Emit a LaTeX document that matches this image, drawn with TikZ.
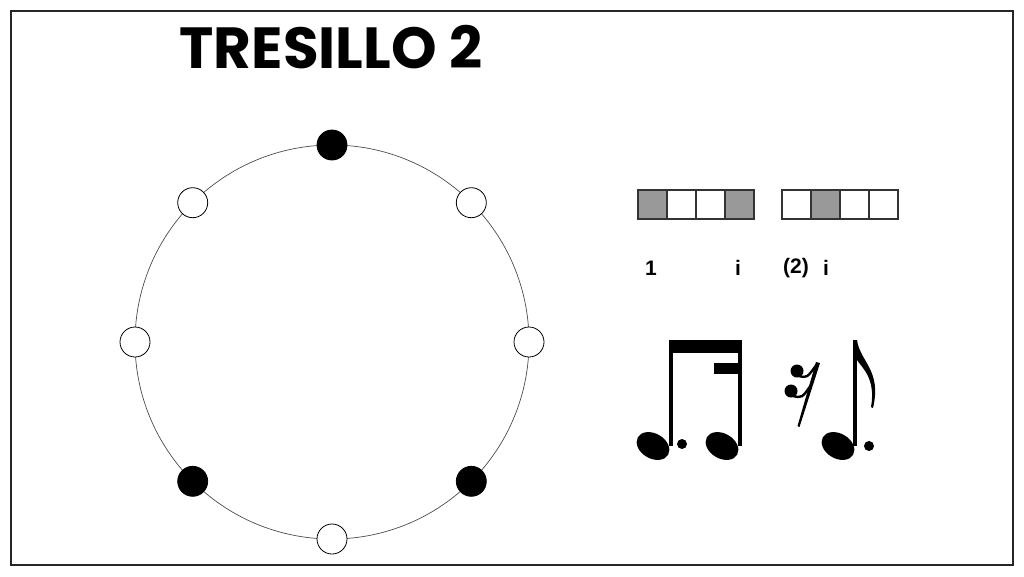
\documentclass[tikz,border=0pt]{standalone}
\usepackage{fontspec}
\setmainfont{Liberation Sans}
\newfontfamily\titlefont{Poppins}

\tikzset{
  beatdot/.style={circle, draw=black, line width=0.8, minimum size=30, inner sep=0},
  cell/.style={rectangle, draw=black!80, line width=1.4, minimum size=29, inner sep=0},
  count/.style={font=\bfseries\fontsize{21}{21}\selectfont}
}

\begin{document}
\begin{tikzpicture}[x=1pt,y=-1pt]
	   \useasboundingbox (0,0) rectangle (1024,576);
	   \draw[line width=1.5, color=black!85] (11,11) rectangle (1013,565);
	   \node (title) at (331,47) {\titlefont\bfseries\fontsize{58}{58}\selectfont TRESILLO 2};
	   % clock of eight pulses
	   \draw[color=black!70, line width=0.7] (332,342) circle (197);
	   \foreach \a/\c in {270/black, 315/white, 0/white, 45/black, 90/white, 135/black, 180/white, 225/white}
	     \node[beatdot, fill=\c] (dot\a) at ([shift={(\a:197)}]332,342) {};
	   % grid boxes
	   \node[cell, fill=black!40] (b1) at (652.5,204.5) {};
	   \node[cell] (b2) at (681.5,204.5) {};
	   \node[cell] (b3) at (710.5,204.5) {};
	   \node[cell, fill=black!40] (b4) at (739.5,204.5) {};
	   \node[cell] (b5) at (796.5,204.5) {};
	   \node[cell, fill=black!40] (b6) at (825.5,204.5) {};
	   \node[cell] (b7) at (854.5,204.5) {};
	   \node[cell] (b8) at (883.5,204.5) {};
	   \node[count] (c1) at (651,268) {1};
	   \node[count] (c4) at (738,268) {i};
	   \node[count] (c5) at (796,268) {(2)};
	   \node[count] (c6) at (826,268) {i};
	   % notes
	   \fill[rotate around={-30:(653,446)}] (653,446) ellipse (17.5 and 12.5);
	   \fill (668.5,340) rectangle (673,446);
	   \fill (682,444) circle (5);
	   \fill[rotate around={-30:(722,446)}] (722,446) ellipse (17.5 and 12.5);
	   \fill (737.5,340) rectangle (742,446);
	   \fill (668.5,340) rectangle (742,353);
	   \fill (714,363) rectangle (742,374);
	   % rest
	   \fill (797,371) circle (6.5);
	   \fill (791,391) circle (6.5);
	   \draw[line width=2.4] (799,376) .. controls (807,378) .. (817,364);
	   \draw[line width=2.4] (793,396) .. controls (802,398) .. (811,385);
	   \fill (816,362) -- (820,363) -- (799.5,427) -- (797.5,426) -- cycle;
	   % dotted eighth with flag
	   \fill[rotate around={-30:(838,446)}] (838,446) ellipse (17.5 and 12.5);
	   \fill (852.5,340) rectangle (857,446);
	   \fill (857,340) .. controls (860,362) and (882,370) .. (873,408) -- (871,407) .. controls (876,378) and (862,368) .. (857,360) -- cycle;
	   \fill (869,446) circle (5);
\end{tikzpicture}
\end{document}
